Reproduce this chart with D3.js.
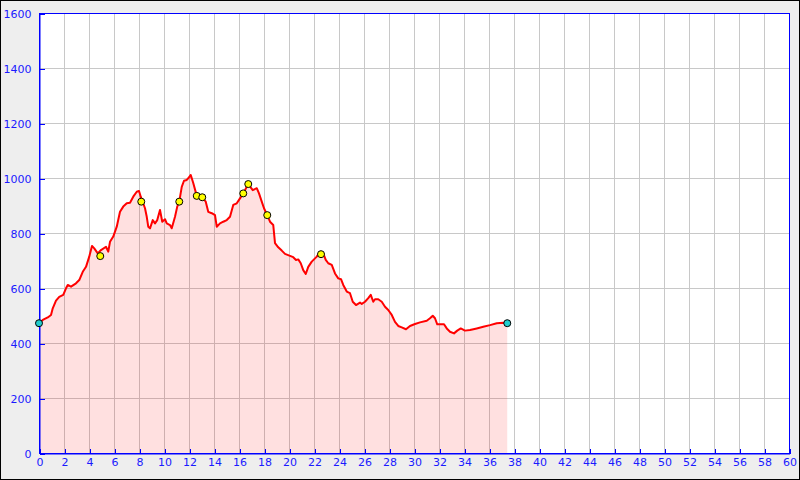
<!DOCTYPE html>
<html>
<head>
<meta charset="utf-8">
<script src="https://cdn.jsdelivr.net/npm/d3@7"></script>
<style>
  html, body { margin: 0; padding: 0; background: #eeeeee; }
  svg { display: block; }
  text { font-family: "DejaVu Sans", sans-serif; font-size: 11px; fill: #1a1aff; }
</style>
</head>
<body>
<svg id="chart" width="800" height="480"></svg>
<script>
// ---- data (km, elevation m) ----
const dist = [0,0.30,0.70,0.96,1.10,1.36,1.62,1.94,2.16,2.30,2.56,2.96,3.22,3.50,3.76,4.02,4.24,4.42,4.70,4.96,
  5.36,5.54,5.68,5.94,6.22,6.48,6.74,7.02,7.28,7.54,7.82,8.00,8.14,8.48,8.62,8.74,8.88,9.10,9.28,9.46,
  9.68,9.86,10.08,10.22,10.48,10.62,10.88,11.06,11.22,11.42,11.60,11.82,11.94,12.14,12.34,12.62,13.06,13.34,13.54,13.82,
  14.08,14.22,14.48,14.74,15.02,15.28,15.54,15.82,16.08,16.34,16.74,17.10,17.42,17.60,17.82,18.00,18.26,18.48,18.74,18.88,
  19.14,19.42,19.68,20.08,20.34,20.56,20.74,20.94,21.14,21.34,21.54,21.82,22.22,22.48,22.74,22.94,23.14,23.42,23.68,23.94,
  24.16,24.34,24.62,24.88,25.10,25.36,25.68,25.82,26.08,26.34,26.54,26.74,26.88,27.14,27.42,27.68,27.94,28.22,28.48,28.74,
  29.02,29.36,29.68,30.08,30.48,31.02,31.28,31.50,31.68,31.86,32.40,32.62,32.88,33.20,33.46,33.74,34.08,34.48,35.02,35.54,
  36.08,36.62,37.14,37.46];
const elev = [472,484,493,502,526,554,568,575,599,611,605,617,629,659,677,714,753,744,726,738,
  750,732,768,787,823,877,896,908,910,932,950,953,932,890,859,823,817,847,835,847,
  884,841,850,835,829,817,859,896,914,968,990,993,999,1011,982,935,930,914,877,872,
  865,823,835,841,847,859,902,908,926,944,978,956,963,944,914,890,865,841,829,763,
  748,736,724,717,712,702,704,690,665,651,677,696,714,732,726,702,690,684,653,635,
  632,611,587,581,550,538,547,542,550,563,575,550,559,559,550,532,520,502,477,462,
  457,450,462,469,475,481,490,499,490,468,468,453,441,435,445,453,445,447,453,459,
  465,472,474,472];
const waypointDist = [4.90, 8.18, 11.22, 12.62, 13.06, 16.34, 16.74, 18.26, 22.56];
const waypointElev = [716, 914, 914, 935, 930, 944, 978, 865, 723];
const endDist = [0, 37.46];
const endElev = [472, 472];
const xTicks = d3.range(0, 61, 2);
const yTicks = d3.range(0, 1601, 200);

// ---- chart ----
const svg = d3.select("#chart");
const W = 800, H = 480;
const x = d3.scaleLinear().domain([0, 60]).range([39, 789]);
const y = d3.scaleLinear().domain([0, 1600]).range([453, 13]);

svg.append("rect").attr("x", 0.5).attr("y", 0.5).attr("width", W - 1).attr("height", H - 1)
  .attr("fill", "#eeeeee").attr("stroke", "#000").attr("stroke-width", 1);
svg.append("rect").attr("x", x(0)).attr("y", y(1600)).attr("width", x(60) - x(0)).attr("height", y(0) - y(1600))
  .attr("fill", "#ffffff");

// grid
const grid = svg.append("g").attr("shape-rendering", "crispEdges").attr("stroke", "#c8c8c8").attr("stroke-width", 1);
grid.selectAll("line.v").data(xTicks.slice(1, -1)).join("line")
  .attr("x1", d => Math.round(x(d)) + 0.5).attr("x2", d => Math.round(x(d)) + 0.5)
  .attr("y1", y(1600)).attr("y2", y(0));
grid.selectAll("line.h").data(yTicks.slice(1, -1)).join("line")
  .attr("x1", x(0)).attr("x2", x(60))
  .attr("y1", d => Math.round(y(d)) + 0.5).attr("y2", d => Math.round(y(d)) + 0.5);

const pts = dist.map((d, i) => [d, elev[i]]);

// area
svg.append("path").datum(pts)
  .attr("fill", "rgba(255,0,0,0.12)")
  .attr("d", d3.area().x(d => x(d[0])).y0(y(0)).y1(d => y(d[1])));

// line
svg.append("path").datum(pts)
  .attr("fill", "none").attr("stroke", "#ff0000").attr("stroke-width", 2).attr("stroke-linejoin", "round")
  .attr("d", d3.line().x(d => x(d[0])).y(d => y(d[1])));

// frame
svg.append("rect").attr("x", x(0) + 0.5).attr("y", y(1600) + 0.5)
  .attr("width", x(60) - x(0)).attr("height", y(0) - y(1600))
  .attr("fill", "none").attr("stroke", "#0000ff").attr("stroke-width", 1).attr("shape-rendering", "crispEdges");

// axes (ticks inward)
const xAxis = d3.axisBottom(x).tickValues(xTicks).tickSizeInner(-5).tickSizeOuter(0).tickPadding(9).tickFormat(d3.format("d"));
const gx = svg.append("g").attr("transform", `translate(0.5,${y(0) + 0.5})`).call(xAxis);
const yAxis = d3.axisLeft(y).tickValues(yTicks).tickSizeInner(-5).tickSizeOuter(0).tickPadding(9).tickFormat(d3.format("d"));
const gy = svg.append("g").attr("transform", `translate(${x(0) + 0.5},0.5)`).call(yAxis);
[gx, gy].forEach(g => {
  g.select(".domain").attr("stroke", "#0000ff");
  g.selectAll(".tick line").attr("stroke", "#0000ff").attr("shape-rendering", "crispEdges");
  g.selectAll(".tick text").attr("fill", "#1a1aff").style("font-family", "DejaVu Sans").style("font-size", "11px");
});
gx.selectAll(".tick text").attr("dy", "0.71em").attr("y", 5);
gy.selectAll(".tick text").attr("x", -8);

// markers
svg.append("g").selectAll("circle").data(waypointDist).join("circle")
  .attr("cx", (d) => x(d)).attr("cy", (d, i) => y(waypointElev[i])).attr("r", 3.5)
  .attr("fill", "#ffff00").attr("stroke", "#000").attr("stroke-width", 1);
svg.append("g").selectAll("circle").data(endDist).join("circle")
  .attr("cx", (d) => x(d)).attr("cy", (d, i) => y(endElev[i])).attr("r", 3.5)
  .attr("fill", "#22cccc").attr("stroke", "#000").attr("stroke-width", 1);
</script>
</body>
</html>
